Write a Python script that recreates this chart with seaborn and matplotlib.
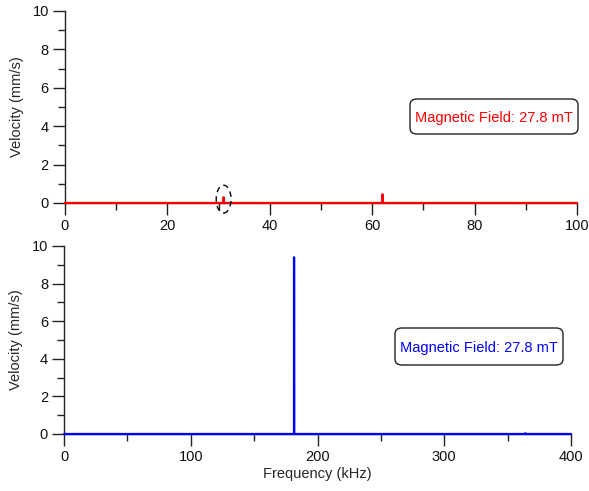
import numpy as np
import pandas as pd
import matplotlib
matplotlib.use("Agg")
import matplotlib.pyplot as plt
from matplotlib.patches import Ellipse, FancyBboxPatch
import seaborn as sns

# Low-frequency band (0-100 kHz): resolved spectral peaks
low_peak_freq = [31.0, 62.0]      # kHz
low_peak_vel = [0.30, 0.45]       # mm/s
# High-frequency band (0-400 kHz)
high_peak_freq = [181.5, 364.0]   # kHz
high_peak_vel = [9.4, 0.04]       # mm/s

field_label = "Magnetic Field: 27.8 mT"


def spectrum(fmax, step, peak_freq, peak_vel):
    freq = np.round(np.arange(0, fmax + step / 2, step), 4)
    vel = np.zeros_like(freq)
    for f, v in zip(peak_freq, peak_vel):
        vel[np.argmin(np.abs(freq - f))] = v
    return pd.DataFrame({"Frequency (kHz)": freq, "Velocity (mm/s)": vel})


low = spectrum(100, 0.02, low_peak_freq, low_peak_vel)
high = spectrum(400, 0.05, high_peak_freq, high_peak_vel)

sns.set_theme(style="ticks")
plt.rcParams["font.family"] = ["Liberation Sans", "DejaVu Sans"]
plt.rcParams["font.size"] = 10.5

W, H = 589, 491
fig = plt.figure(figsize=(W / 100, H / 100), dpi=100)
ax1 = fig.add_axes([0.110, 0.5866, 0.870, 0.3910])
ax2 = fig.add_axes([0.1087, 0.1161, 0.8607, 0.3829])

sns.lineplot(data=low, x="Frequency (kHz)", y="Velocity (mm/s)", ax=ax1,
             color="#ff0000", lw=1.6, estimator=None, zorder=5)
sns.lineplot(data=high, x="Frequency (kHz)", y="Velocity (mm/s)", ax=ax2,
             color="#0000ff", lw=1.6, estimator=None, zorder=5)

for ax, xmax, major, minor in [(ax1, 100, 20, 10), (ax2, 400, 100, 50)]:
    ax.set_xlim(0, xmax)
    ax.set_ylim(0, 10)
    ax.set_xticks(np.arange(0, xmax + 1, major))
    ax.set_xticks(np.arange(minor, xmax, major), minor=True)
    ax.set_yticks(np.arange(0, 11, 2))
    ax.set_yticks(np.arange(1, 10, 2), minor=True)
    for side in ("top", "right"):
        ax.spines[side].set_visible(False)
    for side in ("left", "bottom"):
        ax.spines[side].set_linewidth(1.0)
        ax.spines[side].set_color("#222222")
    ax.tick_params(which="major", direction="out", length=8.5, width=1,
                   color="#222222", labelsize=10.5, labelcolor="#111111", pad=3)
    ax.tick_params(which="minor", direction="out", length=5, width=1,
                   color="#222222")
    ax.set_ylabel("Velocity (mm/s)", fontsize=10.5, labelpad=6)
    for line in ax.get_lines():
        line.set_clip_on(False)

ax1.set_xlabel("")
ax2.set_xlabel("Frequency (kHz)", fontsize=10.5, labelpad=2)

# Highlight the weak peak near 31 kHz
ax1.add_patch(Ellipse((31.0, 0.2), width=2.9, height=1.45, fill=False,
                      ls=(0, (4, 3)), lw=1, ec="black", zorder=6, clip_on=False))


def label_box(x0, y0, x1, y1, color):
    # rounded frame given in figure pixels (top-left origin), text centred in it
    fig.patches.append(FancyBboxPatch(
        (x0 / W, 1 - y1 / H), (x1 - x0) / W, (y1 - y0) / H,
        boxstyle="round,pad=0,rounding_size=0.012", transform=fig.transFigure,
        fc="white", ec="#222222", lw=1, zorder=10))
    fig.text((x0 + x1) / 2 / W, 1 - (y0 + y1) / 2 / H, field_label,
             color=color, fontsize=10.5, ha="center", va="center_baseline",
             zorder=11)


label_box(410, 99, 578, 134, "#ff0000")
label_box(395, 328, 563, 365, "#0000ff")

fig.savefig("out.png", dpi=100)
